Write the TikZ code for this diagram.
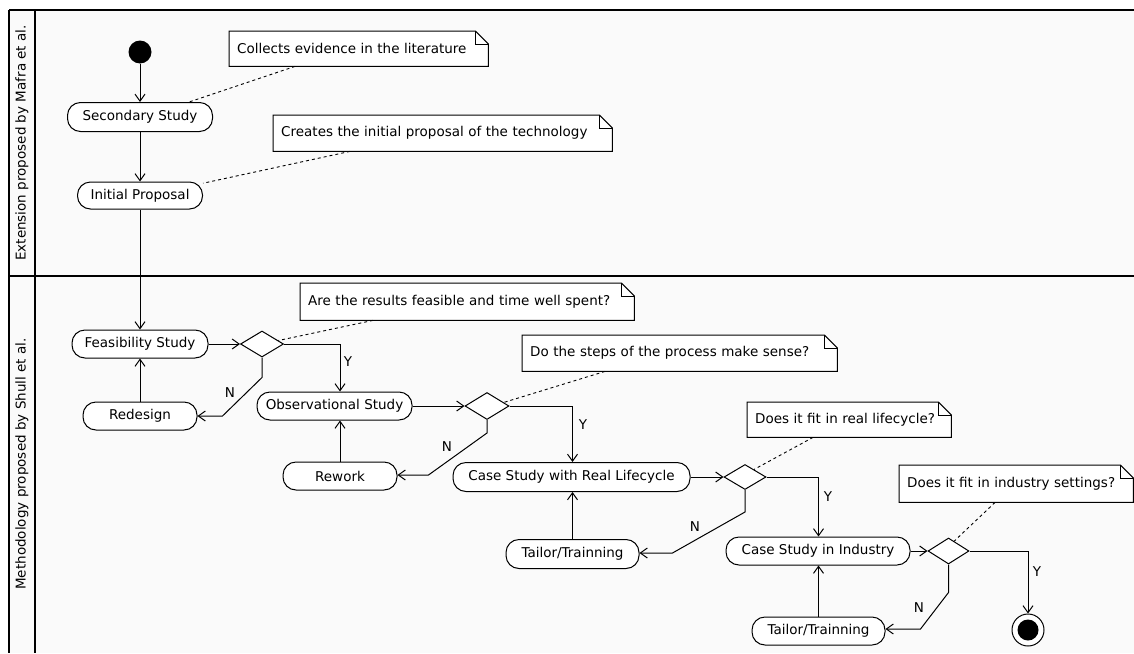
\documentclass[tikz,border=0pt]{standalone}
\usepackage{fontspec}
\setmainfont{DejaVu Sans}
\usetikzlibrary{arrows.meta,shapes.geometric,calc}
\tikzset{
  act/.style={draw, fill=white, rounded corners=13pt, minimum height=28pt, inner sep=0pt, line width=1pt},
  dec/.style={draw, fill=white, diamond, minimum width=43pt, minimum height=26pt, inner sep=0pt, line width=1pt},
  flow/.style={line width=1pt, -{Straight Barb[length=7pt,width=10pt]}},
  notebox/.style={inner xsep=8pt, inner ysep=0pt, align=left, anchor=north west},
  notelink/.style={dashed, dash pattern=on 3pt off 3pt, line width=0.9pt},
  lbl/.style={inner sep=0pt},
  frameline/.style={line width=2pt}
}
\newcommand{\notefold}[1]{%
  \draw[line width=1pt, fill=white] (#1.north west) -- ($(#1.north east)+(-13,0)$) -- ($(#1.north east)+(0,13)$) -- (#1.south east) -- (#1.south west) -- cycle;
  \draw[line width=0.9pt] ($(#1.north east)+(-13,0)$) -- ($(#1.north east)+(-13,13)$) -- ($(#1.north east)+(0,13)$);
}
\begin{document}
\begin{tikzpicture}[x=1pt,y=-1pt,font=\fontsize{13.5pt}{16pt}\selectfont]
\useasboundingbox (0,0) rectangle (1134,653);
\fill[white] (0,0) rectangle (1134,653);
\fill[black!2] (9,10) rectangle (1134,653);
% frame
\draw[frameline] (9,10) -- (1134,10);
\draw[frameline] (9,10) -- (9,653);
\draw[frameline] (35,10) -- (35,653);
\draw[frameline] (9,276) -- (1134,276);
\node[rotate=90, lbl] (lane1) at (22,143) {Extension proposed by Mafra et al.};
\node[rotate=90, lbl] (lane2) at (22,464) {Methodology proposed by Shull et al.};

% nodes
\node[circle, fill=black, minimum size=23pt, inner sep=0pt] (start) at (140,52) {};
\node[act, minimum width=145pt, minimum height=29pt] (ss) at (140,117) {Secondary Study};
\node[act, minimum width=125pt, minimum height=27pt] (ip) at (140,195.5) {Initial Proposal};
\node[act, minimum width=136pt] (fs) at (140,344) {Feasibility Study};
\node[act, minimum width=114pt] (rd) at (140,416) {Redesign};
\node[dec] (d1) at (262,344) {};
\node[act, minimum width=155pt] (os) at (334.5,406) {Observational Study};
\node[act, minimum width=114pt] (rw) at (340,476) {Rework};
\node[dec, minimum width=44pt, minimum height=27pt] (d2) at (487,406) {};
\node[act, minimum width=237pt, minimum height=29pt] (cs) at (571.5,477) {Case Study with Real Lifecycle};
\node[act, minimum width=133pt, minimum height=29pt] (t1) at (572.5,554) {Tailor/Trainning};
\node[dec, minimum width=42pt, minimum height=25pt] (d3) at (745,477) {};
\node[act, minimum width=184pt] (ci) at (818,551) {Case Study in Industry};
\node[act, minimum width=133pt] (t2) at (818.5,631) {Tailor/Trainning};
\node[dec, minimum width=41pt] (d4) at (948.5,551) {};
\node[circle, draw, line width=1pt, fill=white, minimum size=32pt, inner sep=0pt] (stop) at (1028,630) {};
\fill[black] (stop.center) circle (10.5);

% notes
\node[notebox, minimum height=35pt, text width=243pt] (n1) at (229,31) {};
\notefold{n1}
\node[notebox, minimum height=35pt, text width=243pt] at (229,31) {Collects evidence in the literature};
\node[notebox, minimum height=36pt, text width=323pt] (n2) at (273,115) {};
\notefold{n2}
\node[notebox, minimum height=36pt, text width=323pt] at (273,115) {Creates the initial proposal of the technology};
\node[notebox, minimum height=37pt, text width=318pt] (n3) at (300,283) {};
\notefold{n3}
\node[notebox, minimum height=37pt, text width=318pt] at (300,283) {Are the results feasible and time well spent?};
\node[notebox, minimum height=36pt, text width=299pt] (n4) at (522,335) {};
\notefold{n4}
\node[notebox, minimum height=36pt, text width=299pt] at (522,335) {Do the steps of the process make sense?};
\node[notebox, minimum height=35pt, text width=188pt] (n5) at (747,402) {};
\notefold{n5}
\node[notebox, minimum height=35pt, text width=188pt] at (747,402) {Does it fit in real lifecycle?};
\node[notebox, minimum height=37pt, text width=218pt] (n6) at (899,465) {};
\notefold{n6}
\node[notebox, minimum height=37pt, text width=218pt] at (899,465) {Does it fit in industry settings?};

% note links
\draw[notelink] ($(n1.south west)+(66,0)$) -- (ss.17);
\draw[notelink] ($(n2.south west)+(77,0)$) -- (ip.11);
\draw[notelink] ($(n3.south west)+(73,0)$) -- (d1.12);
\draw[notelink] ($(n4.south west)+(83,0)$) -- (d2.12);
\draw[notelink] ($(n5.south west)+(66,0)$) -- (d3.40);
\draw[notelink] ($(n6.south west)+(96,0)$) -- (d4.60);

% flows
\draw[flow] (start) -- (ss);
\draw[flow] (ss) -- (ip);
\draw[flow] (ip) -- (fs);
\draw[flow] (fs) -- (d1);
\draw[flow] (d1.east) -| (rw.north |- os.north);
\node[lbl] (y1) at (348,362) {Y};
\draw[flow] (d1.south) -- ++(0,20) -- ($(rd.east)+(25,0)$) -- (rd.east);
\node[lbl] (no1) at (230,393) {N};
\draw[flow] (rd) -- (fs);
\draw[flow] (os) -- (d2);
\draw[flow] (d2.east) -| (t1.north |- cs.north);
\node[lbl] (y2) at (583,425) {Y};
\draw[flow] (d2.south) -- ++(0,13) -- ($(rw.east)+(31,-1)$) -- ($(rw.east)+(0,-1)$);
\node[lbl] (no2) at (447,447) {N};
\draw[flow] (rw.north) -- (rw.north |- os.south);
\draw[flow] (cs) -- (d3);
\draw[flow] (d3.east) -| (t2.north |- ci.north);
\node[lbl] (y3) at (828,497) {Y};
\draw[flow] (d3.south) -- ++(0,22) -- ($(t1.east)+(33,-1)$) -- ($(t1.east)+(0,-1)$);
\node[lbl] (no3) at (695,527) {N};
\draw[flow] (t1.north) -- (t1.north |- cs.south);
\draw[flow] (ci) -- (d4);
\draw[flow] (d4.east) -| (stop.north);
\node[lbl] (y4) at (1037,572) {Y};
\draw[flow] (d4.south) -- ++(0,28) -- ($(t2.east)+(35,-2)$) -- ($(t2.east)+(0,-2)$);
\node[lbl] (no4) at (919,608) {N};
\draw[flow] (t2.north) -- (t2.north |- ci.south);
\end{tikzpicture}
\end{document}
